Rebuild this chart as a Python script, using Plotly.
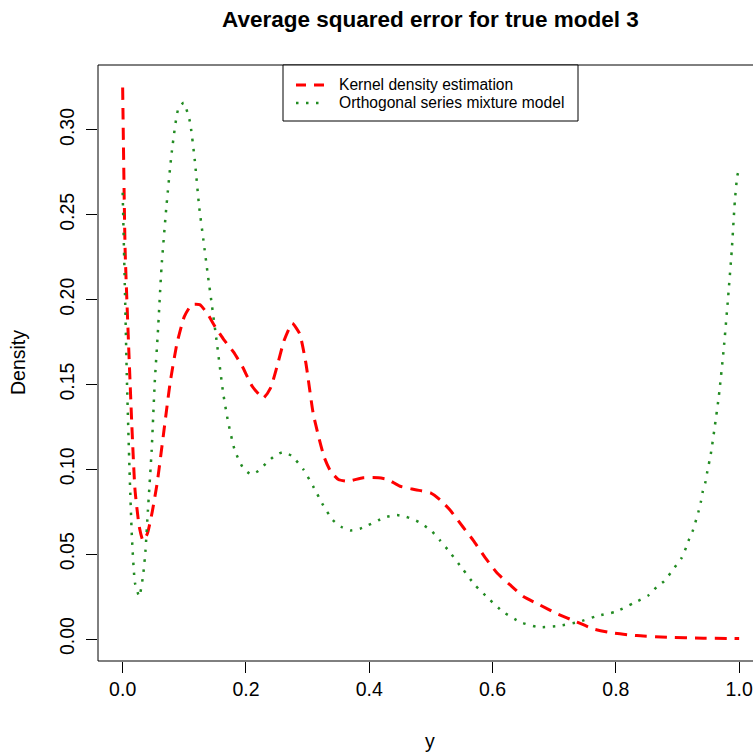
import plotly.graph_objects as go

# ---------------- data ----------------
kde_x = [0.000, 0.004, 0.010, 0.015, 0.020, 0.027, 0.033, 0.040, 0.048, 0.056,
         0.066, 0.077, 0.088, 0.100, 0.112, 0.125, 0.137, 0.150, 0.165, 0.180,
         0.195, 0.210, 0.228, 0.240, 0.250, 0.262, 0.275, 0.287, 0.297, 0.309,
         0.318, 0.327, 0.337, 0.350, 0.365, 0.390, 0.415, 0.430, 0.450, 0.475,
         0.500, 0.515, 0.531, 0.552, 0.569, 0.588, 0.607, 0.628, 0.650, 0.677,
         0.704, 0.737, 0.763, 0.796, 0.834, 0.883, 0.942, 1.000]
kde_y = [0.325, 0.229, 0.170, 0.125, 0.088, 0.066, 0.058, 0.062, 0.075, 0.092,
         0.120, 0.151, 0.174, 0.190, 0.197, 0.197, 0.192, 0.184, 0.176, 0.169,
         0.160, 0.149, 0.142, 0.148, 0.160, 0.176, 0.186, 0.180, 0.163, 0.133,
         0.119, 0.107, 0.099, 0.094, 0.093, 0.095, 0.095, 0.094, 0.090, 0.088,
         0.086, 0.082, 0.076, 0.066, 0.058, 0.048, 0.039, 0.032, 0.025, 0.020,
         0.015, 0.010, 0.006, 0.0035, 0.002, 0.001, 0.0005, 0.0003]

osm_x = [0.000, 0.004, 0.007, 0.011, 0.015, 0.020, 0.027, 0.033, 0.037, 0.041,
         0.047, 0.052, 0.057, 0.063, 0.071, 0.080, 0.090, 0.099, 0.109, 0.117,
         0.124, 0.131, 0.138, 0.145, 0.153, 0.163, 0.171, 0.182, 0.195, 0.208,
         0.220, 0.234, 0.247, 0.259, 0.274, 0.293, 0.309, 0.325, 0.341, 0.355,
         0.370, 0.385, 0.398, 0.415, 0.429, 0.445, 0.460, 0.480, 0.500, 0.515,
         0.531, 0.552, 0.571, 0.593, 0.617, 0.645, 0.674, 0.706, 0.739, 0.769,
         0.799, 0.828, 0.854, 0.867, 0.878, 0.889, 0.899, 0.907, 0.914, 0.919,
         0.925, 0.930, 0.934, 0.938, 0.941, 0.945, 0.948, 0.954, 0.960, 0.967,
         0.975, 0.982, 0.988, 0.993, 0.997, 1.000]
osm_y = [0.263, 0.200, 0.151, 0.101, 0.060, 0.033, 0.025, 0.037, 0.052, 0.076,
         0.111, 0.151, 0.180, 0.219, 0.255, 0.288, 0.312, 0.316, 0.305, 0.282,
         0.255, 0.235, 0.215, 0.196, 0.174, 0.145, 0.128, 0.111, 0.101, 0.097,
         0.099, 0.104, 0.108, 0.110, 0.108, 0.100, 0.090, 0.079, 0.070, 0.066,
         0.064, 0.065, 0.067, 0.070, 0.072, 0.073, 0.072, 0.069, 0.064, 0.058,
         0.051, 0.041, 0.032, 0.024, 0.016, 0.010, 0.007, 0.0077, 0.010, 0.0135,
         0.016, 0.021, 0.026, 0.031, 0.034, 0.039, 0.044, 0.048, 0.054, 0.059,
         0.064, 0.070, 0.075, 0.081, 0.087, 0.092, 0.098, 0.109, 0.124, 0.143,
         0.171, 0.201, 0.229, 0.258, 0.273, 0.277]

x_ticks = [0.0, 0.2, 0.4, 0.6, 0.8, 1.0]
x_tick_labels = ["0.0", "0.2", "0.4", "0.6", "0.8", "1.0"]
y_ticks = [0.00, 0.05, 0.10, 0.15, 0.20, 0.25, 0.30]
y_tick_labels = ["0.00", "0.05", "0.10", "0.15", "0.20", "0.25", "0.30"]

series_names = ["Kernel density estimation", "Orthogonal series mixture model"]
title_text = "Average squared error for true model 3"
x_title = "y"
y_title = "Density"

# ---------------- layout geometry (pixels) ----------------
W, H = 753, 755
L, R, T, B = 98, 0, 65, 94
PW, PH = W - L - R, H - T - B
FONT = "Liberation Sans, Arial, sans-serif"
RED = "#FF0000"
GREEN = "#228B22"


def px(xp):
    return (xp - L) / PW


def py(yp):
    return (H - B - yp) / PH


fig = go.Figure()
fig.add_trace(go.Scatter(x=kde_x, y=kde_y, mode="lines", name=series_names[0],
                         line=dict(color=RED, width=3, dash="12px,8px", shape="spline", smoothing=0.5),
                         showlegend=False))
fig.add_trace(go.Scatter(x=osm_x, y=osm_y, mode="lines", name=series_names[1],
                         line=dict(color=GREEN, width=2.5, dash="2.5px,7.5px", shape="spline", smoothing=0.5),
                         showlegend=False))

shapes = []
# plot box (right side lies past the window edge, as in the reference)
shapes.append(dict(type="rect", xref="paper", yref="paper", x0=0, x1=1.05, y0=0, y1=1,
                   line=dict(color="black", width=1)))
# legend box
lx0, lx1, ly0, ly1 = 283, 578, 65, 121
shapes.append(dict(type="rect", xref="paper", yref="paper", x0=px(lx0), x1=px(lx1),
                   y0=py(ly1), y1=py(ly0), line=dict(color="black", width=1), fillcolor="white"))
shapes.append(dict(type="line", xref="paper", yref="paper", x0=px(296), x1=px(326),
                   y0=py(85), y1=py(85), line=dict(color=RED, width=3, dash="10px,8px")))
shapes.append(dict(type="line", xref="paper", yref="paper", x0=px(296), x1=px(326),
                   y0=py(103), y1=py(103), line=dict(color=GREEN, width=2.5, dash="2.5px,7.5px")))

annotations = [
    dict(text="<b>%s</b>" % title_text, xref="paper", yref="paper", x=px(430), y=py(20),
         xanchor="center", yanchor="middle", showarrow=False,
         font=dict(family=FONT, size=22.5, color="black")),
    dict(text=x_title, xref="paper", yref="paper", x=px(430), y=py(741),
         xanchor="center", yanchor="middle", showarrow=False,
         font=dict(family=FONT, size=19.5, color="black")),
    dict(text=y_title, xref="paper", yref="paper", x=px(18), y=py(363), textangle=-90,
         xanchor="center", yanchor="middle", showarrow=False,
         font=dict(family=FONT, size=19.5, color="black")),
    dict(text=series_names[0], xref="paper", yref="paper", x=px(337), y=py(85),
         xanchor="left", yanchor="middle", showarrow=False,
         font=dict(family=FONT, size=15.6, color="black")),
    dict(text=series_names[1], xref="paper", yref="paper", x=px(337), y=py(103),
         xanchor="left", yanchor="middle", showarrow=False,
         font=dict(family=FONT, size=15.6, color="black")),
]

fig.update_layout(
    width=W, height=H,
    margin=dict(l=L, r=R, t=T, b=B, pad=0, autoexpand=False),
    paper_bgcolor="white", plot_bgcolor="white",
    showlegend=False,
    shapes=shapes, annotations=annotations,
    font=dict(family=FONT, size=19.5, color="black"),
)
x_right = -0.04 + (PW) / 616.5
fig.update_xaxes(range=[-0.04, x_right], tickvals=x_ticks, ticktext=x_tick_labels,
                 showgrid=False, zeroline=False, showline=False,
                 ticks="outside", ticklen=11, tickwidth=1, tickcolor="black",
                 ticklabeloverflow="allow", automargin=False,
                 tickfont=dict(family=FONT, size=19.5, color="black"))
fig.update_yaxes(range=[-0.01296, 0.33824], tickvals=y_ticks, ticktext=y_tick_labels,
                 showgrid=False, zeroline=False, showline=False,
                 ticks="outside", ticklen=11, tickwidth=1, tickcolor="black",
                 tickangle=-90, automargin=False, ticklabelstandoff=4,
                 tickfont=dict(family=FONT, size=19.5, color="black"))

fig.write_html("out.html")
